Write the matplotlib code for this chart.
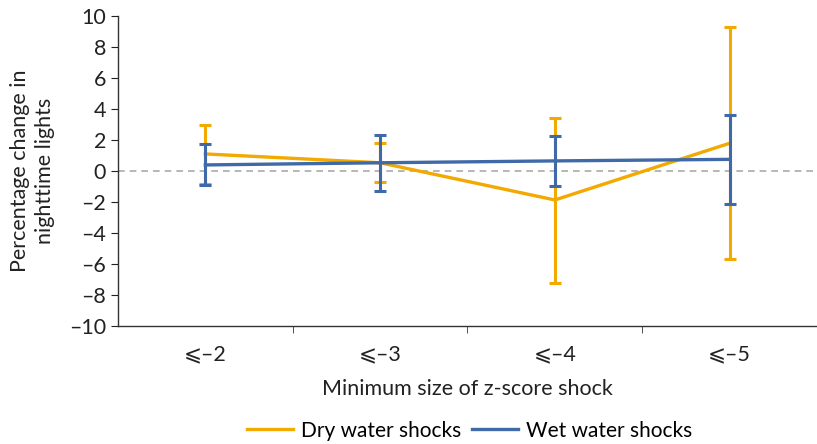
import numpy as np
import matplotlib.pyplot as plt
from matplotlib.ticker import FixedLocator, FuncFormatter
from matplotlib.lines import Line2D

# data
categories = ["⩽–2", "⩽–3", "⩽–4", "⩽–5"]
dry_mid = [1.1, 0.53, -1.87, 1.79]
dry_low = [-0.84, -0.7, -7.2, -5.7]
dry_high = [2.97, 1.8, 3.4, 9.3]
wet_mid = [0.39, 0.53, 0.65, 0.75]
wet_low = [-0.9, -1.27, -0.95, -2.15]
wet_high = [1.74, 2.3, 2.24, 3.63]

plt.rcParams['font.family'] = ['Lato', 'DejaVu Sans']
orange = "#F2A900"
blue = "#4069A8"
fs = 15.5

fig = plt.figure(figsize=(8.17, 4.44), dpi=100)
ax = fig.add_axes([0.1444, 0.2658, 0.8556, 0.6982])

x = np.arange(len(categories))
ax.axhline(0, color="#aaaaaa", lw=1.2, ls=(0, (4, 3)), zorder=1)

for mid, low, high, col, lab, z in [
    (dry_mid, dry_low, dry_high, orange, "Dry water shocks", 2),
    (wet_mid, wet_low, wet_high, blue, "Wet water shocks", 3),
]:
    mid = np.array(mid)
    err = [mid - np.array(low), np.array(high) - mid]
    ax.errorbar(x, mid, yerr=err, color=col, lw=2.4, elinewidth=2.2,
                capsize=4, capthick=2.2, label=lab, zorder=z)

ax.set_xlim(-0.5, 3.5)
ax.set_ylim(-10, 10)
ax.set_yticks(range(-10, 11, 2))
ax.yaxis.set_major_formatter(FuncFormatter(lambda v, p: f"{int(v)}".replace("-", "–")))
ax.set_xticks(x)
ax.set_xticklabels(categories)
ax.xaxis.set_minor_locator(FixedLocator([0.5, 1.5, 2.5]))
ax.tick_params(axis='x', which='major', length=0, pad=13, labelsize=fs, colors="#222222")
ax.tick_params(axis='x', which='minor', length=5, color="#333333")
ax.tick_params(axis='y', length=5, labelsize=fs, colors="#222222")

for s in ["top", "right"]:
    ax.spines[s].set_visible(False)
for s in ["left", "bottom"]:
    ax.spines[s].set_color("#333333")
    ax.spines[s].set_linewidth(1)

ax.set_xlabel("Minimum size of z-score shock", fontsize=fs, color="#222222", labelpad=11)
ax.set_ylabel("Percentage change in\nnighttime lights", fontsize=fs, color="#222222", labelpad=10,
              linespacing=1.3)

labels = ["Dry water shocks", "Wet water shocks"]
h = [Line2D([], [], color=orange, lw=2.4), Line2D([], [], color=blue, lw=2.4)]
fig.legend(h, labels, loc="lower center", bbox_to_anchor=(0.575, -0.035), ncol=2,
           frameon=False, fontsize=15, handlelength=2.2, handletextpad=0.4,
           columnspacing=0.5)

fig.savefig("out.png", dpi=100)
